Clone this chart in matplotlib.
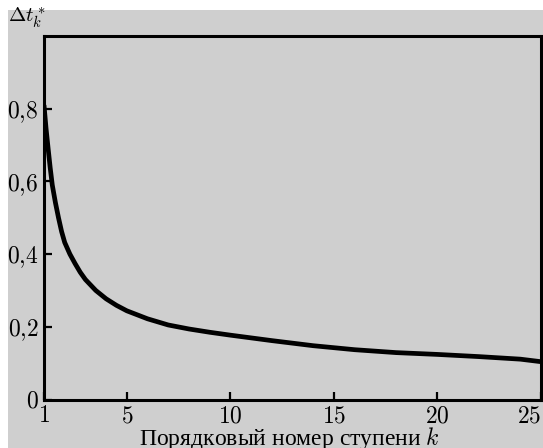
import matplotlib
matplotlib.use("Agg")
import matplotlib.pyplot as plt
from matplotlib.patches import Rectangle

# data
k_vals = [1.0, 1.1, 1.2, 1.3, 1.4, 1.55, 1.7, 1.85, 2.0, 2.25, 2.5, 2.75, 3.0, 3.5, 4.0,
          4.5, 5.0, 6.0, 7.0, 8.0, 9.0, 10.0, 12.0, 14.0, 16.0, 18.0, 20.0, 22.0, 24.0, 25.0]
dt_vals = [0.81, 0.745, 0.69, 0.637, 0.59, 0.542, 0.50, 0.462, 0.432, 0.40, 0.374, 0.35,
           0.33, 0.30, 0.277, 0.259, 0.244, 0.222, 0.205, 0.194, 0.185, 0.177, 0.162,
           0.148, 0.137, 0.129, 0.124, 0.118, 0.111, 0.104]
x_ticks = [1, 5, 10, 15, 20, 25]
x_tick_labels = ["1", "5", "10", "15", "20", "25"]
y_ticks = [0, 0.2, 0.4, 0.6, 0.8]
y_tick_labels = ["0", "0,2", "0,4", "0,6", "0,8"]
x_label = "Порядковый номер ступени $k$"
y_label = r"$\Delta t_k^*$"

plt.rcParams['mathtext.fontset'] = 'cm'
plt.rcParams['font.family'] = ['Liberation Serif', 'DejaVu Serif']

W, H = 543, 448
fig = plt.figure(figsize=(W / 100, H / 100), dpi=100, facecolor='white')
gray = '#cfcfcf'
fig.patches.append(Rectangle((8 / W, 0), 1 - 8 / W, 1 - 10 / H, transform=fig.transFigure,
                             facecolor=gray, edgecolor='none', zorder=-10))

left, right, top, bottom = 44, 541, 36, 399.5
ax = fig.add_axes([left / W, 1 - bottom / H, (right - left) / W, (bottom - top) / H])
ax.set_facecolor(gray)
ax.plot(k_vals, dt_vals, color='black', lw=3.4, solid_capstyle='butt', solid_joinstyle='round')
ax.set_xlim(1, 25)
ax.set_ylim(0, 1.0)
for s in ax.spines.values():
    s.set_linewidth(2.2)
ax.set_xticks(x_ticks)
ax.set_xticklabels(["$%s$" % t for t in x_tick_labels])
ax.set_yticks(y_ticks)
ax.set_yticklabels(["$%s$" % t.replace(",", "{,}") for t in y_tick_labels])
ax.tick_params(direction='in', length=6, width=1.6, labelsize=17)
ax.tick_params(axis='x', pad=5)
ax.tick_params(axis='y', pad=4)
ax.get_xticklabels()[-1].set_horizontalalignment('right')
ax.get_xticklabels()[-1].set_x(25)

ax.set_xlabel(x_label, fontsize=17, va='baseline')
ax.xaxis.set_label_coords((289 - left) / (right - left), (bottom - 445) / (bottom - top))
fig.text(8 / W, 1 - 23 / H, y_label, fontsize=15, ha='left', va='baseline')

fig.savefig("out.png", dpi=100, facecolor='white')
